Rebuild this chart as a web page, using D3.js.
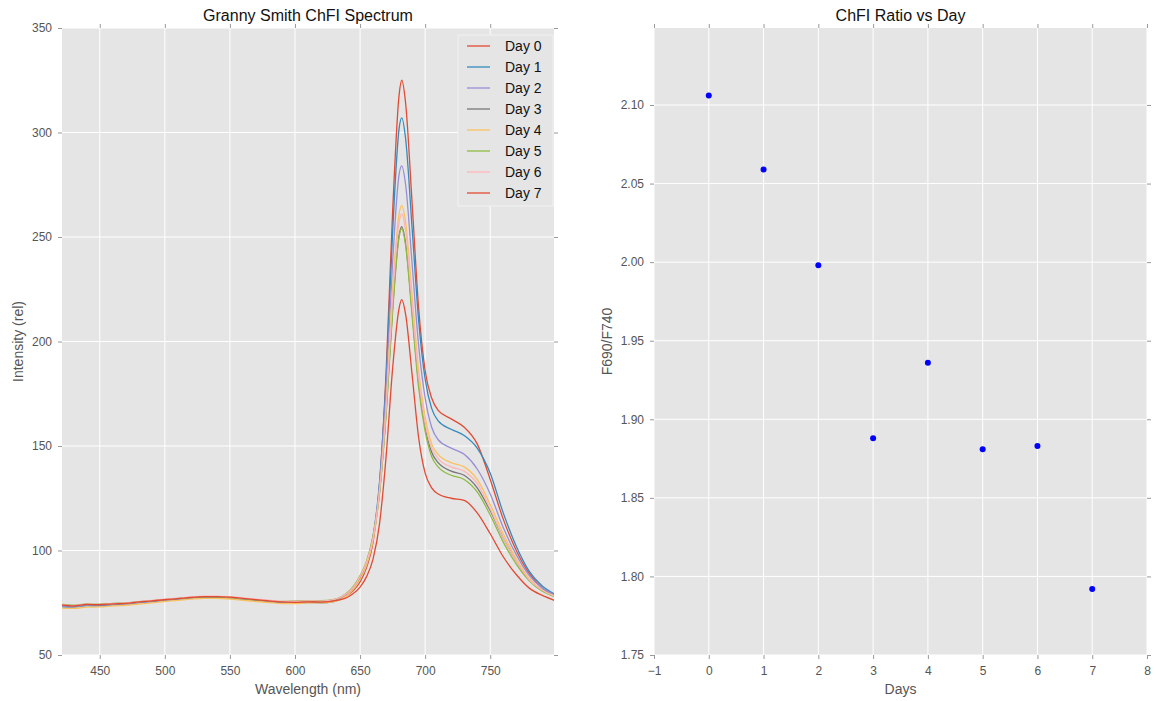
<!DOCTYPE html>
<html>
<head>
<meta charset="utf-8">
<script src="https://cdn.jsdelivr.net/npm/d3@7"></script>
<style>
  body { margin: 0; background: #fff; }
  text { font-family: "Liberation Sans", Arial, sans-serif; }
</style>
</head>
<body>
<div id="chart"></div>
<script>
// wavelengths sampled from the spectrum (nm)
const wavelengths = [420, 430, 440, 450, 460, 470, 480, 490, 500, 510, 520, 530, 540, 550, 560, 570, 580, 590, 600, 610, 620, 630,
    640, 645, 650, 655, 660, 665, 670, 675, 680, 682, 685, 690, 695, 700, 705, 710, 720, 730, 740, 750, 760, 770, 780, 790, 800];

const day0 = [73.6, 73.2, 74.0, 73.9, 74.4, 74.6, 75.3, 75.8, 76.4, 76.9, 77.5, 77.9, 77.8, 77.6, 77.0, 76.4, 75.8, 75.2, 75.0, 75.3, 75.2, 75.8,
    78.5, 81, 85, 92, 104, 132, 185, 262, 318, 325, 314, 266, 216, 186, 173, 167, 163, 159, 151, 134, 115, 100, 89, 82, 78.5];
const day1 = [73.0, 72.9, 73.6, 73.5, 74.0, 74.3, 74.9, 75.5, 76.1, 76.6, 77.2, 77.6, 77.5, 77.3, 76.7, 76.1, 75.5, 75.0, 74.8, 75.1, 75.0, 75.6,
    78.8, 81.5, 86, 93, 106, 133, 182, 252, 302, 307, 297, 254, 210, 182, 168, 162, 158, 155, 149, 137, 118, 102, 90, 83, 79];
const day2 = [73.3, 73.0, 73.7, 73.8, 74.2, 74.5, 75.1, 75.6, 76.2, 76.8, 77.3, 77.7, 77.6, 77.4, 76.8, 76.2, 75.6, 75.1, 75.2, 75.4, 75.4, 76.0,
    79, 82, 86.5, 94, 107, 132, 177, 238, 280, 284, 275, 237, 198, 173, 159, 153, 149, 146, 139, 127, 111, 98, 88, 82, 78.5];
const day3 = [73.8, 73.4, 74.1, 74.0, 74.5, 74.8, 75.4, 75.9, 76.5, 77.0, 77.5, 77.8, 77.7, 77.5, 76.9, 76.3, 75.9, 75.4, 75.6, 75.7, 75.6, 76.3,
    79.5, 82.5, 87, 94, 106, 128, 166, 216, 251, 255, 247, 214, 180, 159, 147, 142, 138, 136, 130, 119, 106, 95, 86, 81, 78];
const day4 = [72.5, 72.3, 72.9, 73.0, 73.5, 73.8, 74.4, 74.9, 75.6, 76.1, 76.7, 77.1, 77.1, 76.8, 76.2, 75.6, 75.1, 74.6, 74.6, 74.9, 74.9, 75.6,
    78.5, 81.5, 86, 93, 105, 128, 169, 225, 261, 265, 257, 222, 186, 164, 151, 146, 142, 140, 134, 122, 108, 96, 86.5, 81, 78];
const day5 = [74.3, 73.9, 74.4, 74.3, 74.7, 74.9, 75.5, 76.0, 76.6, 77.1, 77.6, 77.9, 77.8, 77.6, 77.0, 76.5, 76.0, 75.6, 75.8, 76.0, 76.0, 76.6,
    79.8, 83, 88, 95, 107, 128, 165, 214, 250, 254, 246, 212, 178, 157, 145, 140, 136, 134, 128, 117, 104, 93.5, 85.5, 80.5, 77.8];
const day6 = [74.0, 73.6, 74.3, 74.2, 74.6, 74.9, 75.5, 76.1, 76.7, 77.2, 77.8, 78.2, 78.1, 77.9, 77.3, 76.7, 76.2, 75.7, 75.6, 75.9, 75.8, 76.5,
    79.5, 82.5, 87.5, 94.5, 106, 129, 168, 221, 257, 261, 253, 218, 183, 161, 149, 144, 140, 138, 132, 120, 106, 95, 86, 81, 78];
const day7 = [73.9, 73.5, 74.2, 74.1, 74.5, 74.7, 75.4, 75.9, 76.5, 77.0, 77.6, 77.9, 77.9, 77.7, 77.1, 76.5, 75.9, 75.4, 75.2, 75.4, 75.3, 75.9,
    77.5, 79.5, 82.5, 87.5, 96, 113, 145, 187, 216, 220, 213, 184, 154, 137, 130, 127, 125, 124, 118, 108, 97, 88.5, 82, 78.5, 76];

const seriesNames = ["Day 0", "Day 1", "Day 2", "Day 3", "Day 4", "Day 5", "Day 6", "Day 7"];
const seriesValues = [day0, day1, day2, day3, day4, day5, day6, day7];
const seriesColors = ["#E24A33", "#348ABD", "#988ED5", "#777777", "#FBC15E", "#8EBA42", "#FFB5B8", "#E24A33"];

// ratio plot
const days = [0, 1, 2, 3, 4, 5, 6, 7];
const ratios = [2.106, 2.059, 1.998, 1.888, 1.936, 1.881, 1.883, 1.792];

const specXTicks = [450, 500, 550, 600, 650, 700, 750];
const specYTicks = [50, 100, 150, 200, 250, 300, 350];
const ratioXTicks = [-1, 0, 1, 2, 3, 4, 5, 6, 7, 8];
const ratioYTicks = [1.75, 1.80, 1.85, 1.90, 1.95, 2.00, 2.05, 2.10];

const width = 1156, height = 701;

const svg = d3.select("#chart")
    .append("svg")
    .attr("width", width)
    .attr("height", height);

// draws background, grid, ticks on all four sides, tick labels
function drawFrame(g, x, y, xTicks, yTicks, xFmt, yFmt) {
    const [x0, x1] = x.range();
    const [y0, y1] = y.range();

    g.append("rect")
        .attr("x", x0).attr("y", y1)
        .attr("width", x1 - x0).attr("height", y0 - y1)
        .attr("fill", "#E5E5E5");

    g.append("g").selectAll("line")
        .data(xTicks)
        .enter().append("line")
        .attr("x1", d => x(d)).attr("x2", d => x(d))
        .attr("y1", y1).attr("y2", y0)
        .attr("stroke", "#fff").attr("stroke-width", 1);

    g.append("g").selectAll("line")
        .data(yTicks)
        .enter().append("line")
        .attr("x1", x0).attr("x2", x1)
        .attr("y1", d => y(d)).attr("y2", d => y(d))
        .attr("stroke", "#fff").attr("stroke-width", 1);

    const tickStyle = sel => {
        sel.select(".domain").remove();
        sel.selectAll(".tick line").attr("stroke", "#999").attr("stroke-width", 1);
        sel.selectAll(".tick text").attr("fill", "#555").style("font-size", "12px")
            .style("font-family", "'Liberation Sans', Arial, sans-serif");
    };

    g.append("g")
        .attr("transform", `translate(0,${y0})`)
        .call(d3.axisBottom(x).tickValues(xTicks).tickFormat(xFmt).tickSize(4).tickPadding(7))
        .call(tickStyle);
    g.append("g")
        .attr("transform", `translate(0,${y1})`)
        .call(d3.axisTop(x).tickValues(xTicks).tickFormat("").tickSize(4))
        .call(tickStyle);
    g.append("g")
        .attr("transform", `translate(${x0},0)`)
        .call(d3.axisLeft(y).tickValues(yTicks).tickFormat(yFmt).tickSize(4).tickPadding(6))
        .call(tickStyle);
    g.append("g")
        .attr("transform", `translate(${x1},0)`)
        .call(d3.axisRight(y).tickValues(yTicks).tickFormat("").tickSize(4))
        .call(tickStyle);
}

function addLabels(g, x, y, title, xLabel, yLabel, yLabelX) {
    const [x0, x1] = x.range();
    const [y0, y1] = y.range();
    const cx = (x0 + x1) / 2;
    g.append("text")
        .attr("x", cx).attr("y", y1 - 7)
        .attr("text-anchor", "middle")
        .style("font-size", "16px").attr("fill", "#111")
        .text(title);
    g.append("text")
        .attr("x", cx).attr("y", y0 + 39)
        .attr("text-anchor", "middle")
        .style("font-size", "14px").attr("fill", "#555")
        .text(xLabel);
    g.append("text")
        .attr("transform", `translate(${yLabelX},${(y0 + y1) / 2}) rotate(-90)`)
        .attr("text-anchor", "middle")
        .style("font-size", "14px").attr("fill", "#555")
        .text(yLabel);
}

// ---- left: spectrum ----
const xSpec = d3.scaleLinear().domain([421, 799]).range([62, 554]);
const ySpec = d3.scaleLinear().domain([50, 350]).range([655, 28]);

const left = svg.append("g");
drawFrame(left, xSpec, ySpec, specXTicks, specYTicks, d3.format("d"), d3.format("d"));

left.append("clipPath").attr("id", "clipSpec")
    .append("rect").attr("x", 62).attr("y", 28).attr("width", 492).attr("height", 627);

const line = d3.line()
    .x((d, i) => xSpec(wavelengths[i]))
    .y(d => ySpec(d))
    .curve(d3.curveMonotoneX);

left.append("g")
    .attr("clip-path", "url(#clipSpec)")
    .selectAll("path")
    .data(seriesValues)
    .enter().append("path")
    .attr("d", d => line(d))
    .attr("fill", "none")
    .attr("stroke", (d, i) => seriesColors[i])
    .attr("stroke-width", 1.3);

addLabels(left, xSpec, ySpec, "Granny Smith ChFI Spectrum", "Wavelength (nm)", "Intensity (rel)", 23);

// legend
const legend = left.append("g").attr("transform", "translate(458,35)");
legend.append("rect")
    .attr("width", 95).attr("height", 171)
    .attr("fill", "#E5E5E5").attr("stroke", "#F2F2F2").attr("stroke-width", 1);
const item = legend.selectAll("g.item")
    .data(seriesNames)
    .enter().append("g")
    .attr("class", "item")
    .attr("transform", (d, i) => `translate(0,${11 + i * 21})`);
item.append("line")
    .attr("x1", 9).attr("x2", 32)
    .attr("stroke", (d, i) => seriesColors[i])
    .attr("stroke-width", 1.3);
item.append("text")
    .attr("x", 47).attr("dy", "0.35em")
    .style("font-size", "14px").attr("fill", "#111")
    .text(d => d);

// ---- right: ratio vs day ----
const xDay = d3.scaleLinear().domain([-1, 8]).range([654, 1147]);
const yRatio = d3.scaleLinear().domain([1.75, 2.149]).range([655, 28]);

const right = svg.append("g");
drawFrame(right, xDay, yRatio, ratioXTicks, ratioYTicks,
    d => d < 0 ? "\u2212" + Math.abs(d) : d, d3.format(".2f"));

right.append("g")
    .selectAll("circle")
    .data(days)
    .enter().append("circle")
    .attr("cx", d => xDay(d))
    .attr("cy", (d, i) => yRatio(ratios[i]))
    .attr("r", 3)
    .attr("fill", "#0000FF");

addLabels(right, xDay, yRatio, "ChFI Ratio vs Day", "Days", "F690/F740", 612);
</script>
</body>
</html>
